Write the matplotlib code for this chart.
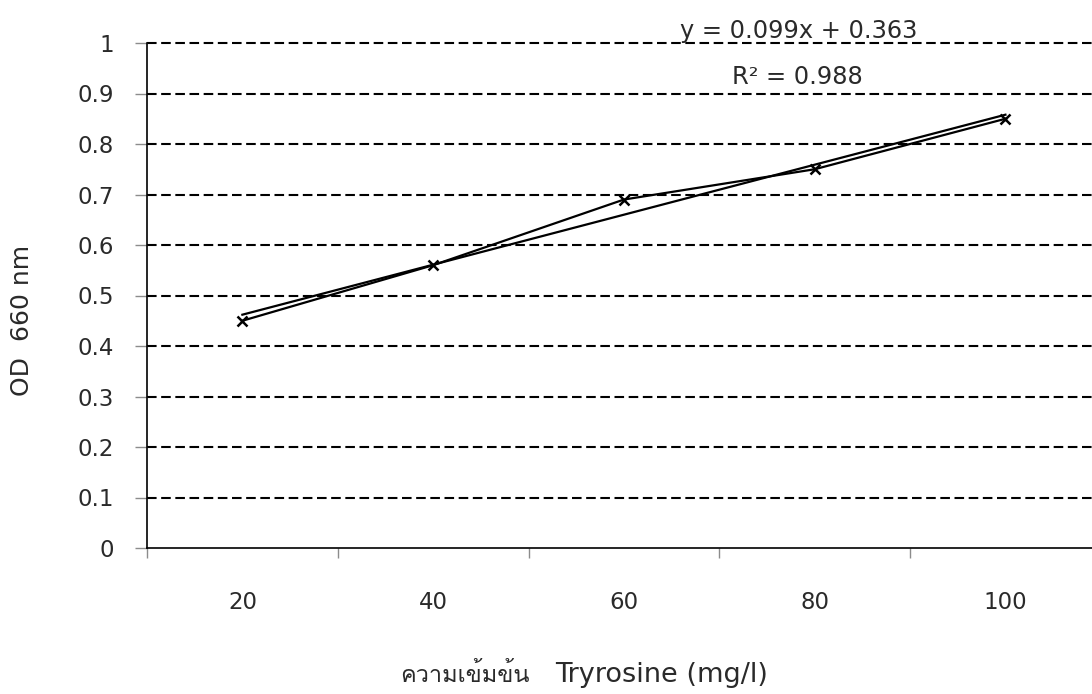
import matplotlib
matplotlib.use("Agg")
import matplotlib.pyplot as plt
from matplotlib import font_manager
import numpy as np

# Data
categories = ["20", "40", "60", "80", "100"]
od_values = [0.45, 0.56, 0.69, 0.75, 0.85]
slope = 0.099
intercept = 0.363
r_squared = 0.988


def find_thai_font():
    try:
        from fontTools.ttLib import TTFont
    except Exception:
        return None
    found = []
    for f in font_manager.fontManager.ttflist:
        try:
            tt = TTFont(f.fname, fontNumber=0, lazy=True)
            cmap = tt.getBestCmap()
            if cmap and 0x0E04 in cmap and 0x0E21 in cmap:
                found.append(f.name)
        except Exception:
            continue
    return found[0] if found else None


thai_font = find_thai_font()
plt.rcParams["font.family"] = ["DejaVu Sans"]
thai_families = ([thai_font] if thai_font else []) + ["DejaVu Sans"]

TEXT = "#2a2a2a"
W, H = 1092, 694


def fx(px):
    return px / W


def fy(py):
    return 1 - py / H


fig = plt.figure(figsize=(W / 100, H / 100), dpi=100)
ax = fig.add_axes([fx(147), 146 / H, 953.8 / W, 505 / H])

x = np.arange(1, len(categories) + 1)

# Linear trendline over category index
trend = slope * x + intercept
ax.plot(x, trend, color="black", lw=1.6, zorder=3)
ax.plot(x, od_values, color="black", lw=1.6, marker="x", markersize=7,
        markeredgewidth=1.8, zorder=4)

ax.set_xlim(0.5, len(categories) + 0.5)
ax.set_ylim(0, 1)

yt = np.round(np.arange(0, 1.01, 0.1), 1)
ax.set_yticks(yt)
ax.set_yticklabels(["0" if v == 0 else ("1" if v == 1 else f"{v:.1f}") for v in yt])
for v in yt[1:]:
    ax.axhline(v, color="black", lw=1.5, ls=(0, (4.6, 2.2)), zorder=1, clip_on=False)

ax.set_xticks(x)
ax.set_xticklabels(categories)
ax.set_xticks(np.arange(0.5, len(categories) + 1, 1), minor=True)
ax.tick_params(axis="x", which="major", length=0, pad=31, labelsize=16.5, labelcolor=TEXT)
ax.tick_params(axis="x", which="minor", length=7, width=1, color="#8c8c8c", direction="out")
ax.tick_params(axis="y", which="major", length=8.5, width=1, color="#8c8c8c", direction="out",
               pad=15, labelsize=16.5, labelcolor=TEXT)

for side in ("top", "right"):
    ax.spines[side].set_visible(False)
ax.spines["left"].set_linewidth(1.2)
ax.spines["bottom"].set_linewidth(1.2)

# Axis titles
fig.text(fx(22), fy(320), "OD  660 nm", rotation=90, ha="center", va="center",
         fontsize=18, color=TEXT)
fig.text(fx(530), fy(682), "ความเข้มข้น", ha="right", va="baseline",
         fontsize=17, color=TEXT, family=thai_families, fontweight="normal")
fig.text(fx(555), fy(682), "Tryrosine (mg/l)", ha="left", va="baseline",
         fontsize=19.5, color=TEXT)

# Trendline equation
fig.text(fx(799), fy(38), f"y = {slope:.3f}x + {intercept:.3f}", ha="center",
         va="baseline", fontsize=17.4, color=TEXT)
fig.text(fx(797), fy(84), f"R² = {r_squared:.3f}", ha="center", va="baseline",
         fontsize=17.4, color=TEXT)

fig.savefig("out.png", dpi=100)
